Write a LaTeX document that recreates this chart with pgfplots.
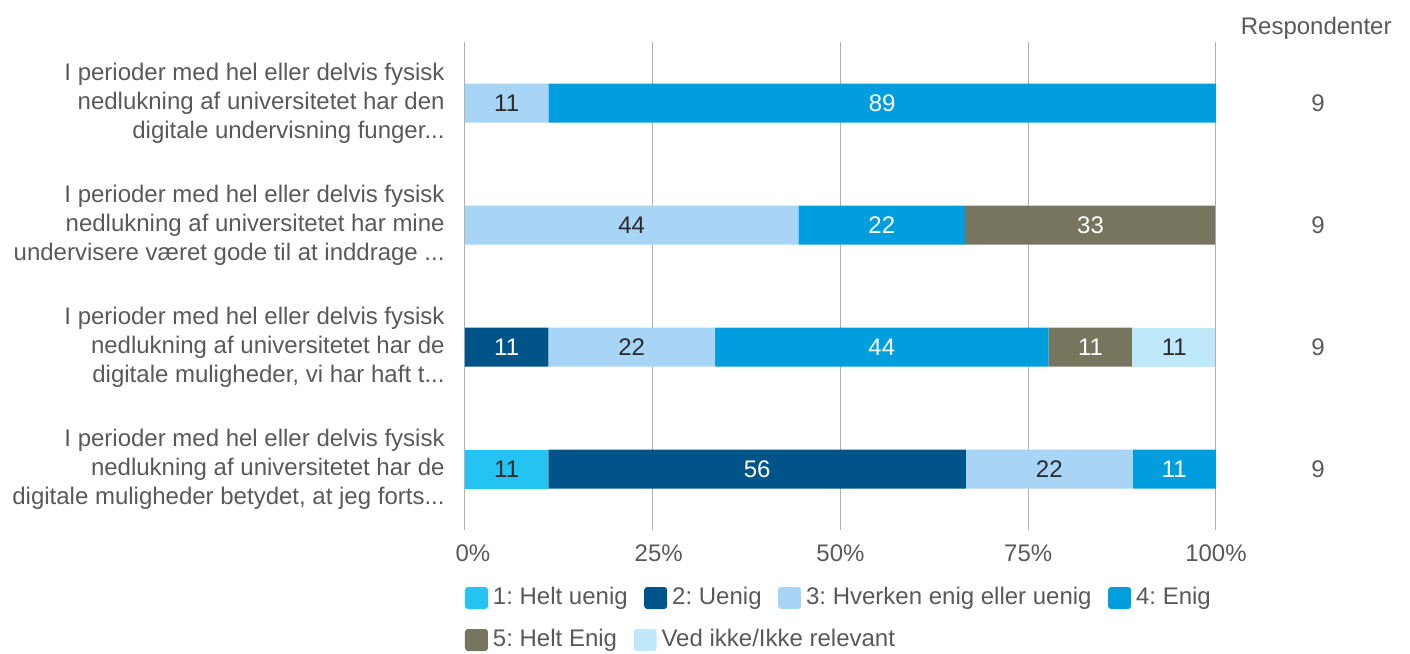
\documentclass[border=0pt]{standalone}
\usepackage{pgfplots}
\pgfplotsset{compat=1.18}
\usepackage{fontspec}
\setmainfont{Liberation Sans}
\frenchspacing
\definecolor{cA}{HTML}{23C3F2}
\definecolor{cB}{HTML}{005489}
\definecolor{cC}{HTML}{A8D4F5}
\definecolor{cD}{HTML}{009EDE}
\definecolor{cE}{HTML}{78755F}
\definecolor{cF}{HTML}{C0E8FB}
\definecolor{txtgray}{HTML}{595959}
\definecolor{numdark}{HTML}{2B2B2B}
\definecolor{gridgray}{HTML}{B0B0B0}
\definecolor{axgray}{HTML}{A0A0A0}
\newcommand\dd{...}
\pgfplotsset{
  sqlegend/.style={legend image code/.code={\fill[##1, rounded corners=1.5pt] (0pt,-5.5pt) rectangle (11.5pt,5.5pt);}},
  sameframe/.style={at={(0,0)}, anchor=south west, scale only axis, width=375.5pt, height=244pt},
  legrow/.style={legend columns=-1,
    legend style={at={(axis description cs:0,0)}, anchor=west, yshift=#1, draw=none, fill=none, inner sep=0pt, outer sep=0pt, text=txtgray, font=\fontsize{12}{14.5}\selectfont, nodes={inner sep=0pt},
    /tikz/every odd column/.append style={column sep=2.5pt},
    /tikz/every even column/.append style={column sep=8.25pt}}},
}
\begin{document}
\fontsize{12}{14.5}\selectfont
\begin{tikzpicture}[font=\fontsize{12}{14.5}\selectfont]
\useasboundingbox (-232.5pt,-62pt) rectangle (472.5pt,265pt);
% bars
\begin{axis}[
  sameframe,
  xbar stacked, bar width=19.5pt,
  sqlegend, legrow=-34pt,
  xmin=0, xmax=100, ymin=-0.5, ymax=3.5, y dir=reverse,
  ytick={0,1,2,3},
  yticklabels={
    {I perioder med hel eller delvis fysisk\\nedlukning af universitetet har den\\digitale undervisning funger\dd},
    {I perioder med hel eller delvis fysisk\\nedlukning af universitetet har mine\\undervisere været gode til at inddrage \dd},
    {I perioder med hel eller delvis fysisk\\nedlukning af universitetet har de\\digitale muligheder, vi har haft t\dd},
    {I perioder med hel eller delvis fysisk\\nedlukning af universitetet har de\\digitale muligheder betydet, at jeg forts\dd}},
  yticklabel style={align=right, inner sep=0pt, xshift=-10pt, text=txtgray, font=\fontsize{12}{14.5}\selectfont},
  xtick={25,50,75,100},
  xticklabels={\hspace{6pt}25\%,50\%,75\%,100\%\hspace{11pt}},
  extra x ticks={0}, extra x tick labels={\hspace{8pt}0\%},
  extra x tick style={grid style={draw=axgray, line width=1pt}},
  xmajorgrids, major grid style={draw=gridgray, line width=0.5pt},
  major tick length=0pt,
  axis line style={draw=none},
  xticklabel style={inner sep=0pt, anchor=north, yshift=-7pt, text=txtgray, font=\fontsize{12}{14.5}\selectfont},
  clip=false,
]
\addplot[fill=cA, draw=none] coordinates {(0,0) (0,1) (0,2) (11.1,3)};
\addlegendentry{1: Helt uenig}
\addplot[fill=cB, draw=none] coordinates {(0,0) (0,1) (11.1,2) (55.6,3)};
\addlegendentry{2: Uenig}
\addplot[fill=cC, draw=none] coordinates {(11.1,0) (44.4,1) (22.2,2) (22.2,3)};
\addlegendentry{3: Hverken enig eller uenig}
\addplot[fill=cD, draw=none] coordinates {(88.9,0) (22.2,1) (44.4,2) (11.1,3)};
\addlegendentry{4: Enig}
\addplot[fill=cE, draw=none] coordinates {(0,0) (33.3,1) (11.1,2) (0,3)};
\addplot[fill=cF, draw=none] coordinates {(0,0) (0,1) (11.1,2) (0,3)};
\end{axis}
% value labels and respondent counts
\begin{axis}[
  sameframe, hide axis, clip=false,
  xmin=0, xmax=100, ymin=-0.5, ymax=3.5, y dir=reverse,
  point meta=explicit symbolic,
  nodes near coords,
  every node near coord/.append style={anchor=center, inner sep=0pt, font=\fontsize{12}{14.5}\selectfont},
]
\addplot[draw=none, mark=none, every node near coord/.append style={text=numdark}] coordinates {
  (5.55,0) [11] (22.2,1) [44] (22.2,2) [22] (94.45,2) [11] (5.55,3) [11] (77.8,3) [22]};
\addplot[draw=none, mark=none, every node near coord/.append style={text=white}] coordinates {
  (55.55,0) [89] (55.5,1) [22] (83.3,1) [33] (5.55,2) [11] (55.5,2) [44] (83.3,2) [11] (38.9,3) [56] (94.45,3) [11]};
\addplot[draw=none, mark=none, every node near coord/.append style={text=txtgray}] coordinates {
  (113.6,0) [9] (113.6,1) [9] (113.6,2) [9] (113.6,3) [9]};
\end{axis}
% second legend row
\begin{axis}[
  sameframe, hide axis, xmin=0, xmax=1, ymin=0, ymax=1,
  sqlegend, legrow=-55pt,
]
\addlegendimage{fill=cE, draw=none}
\addlegendentry{5: Helt Enig}
\addlegendimage{fill=cF, draw=none}
\addlegendentry{Ved ikke/Ikke relevant}
\end{axis}
\node[anchor=east, text=txtgray, inner sep=0pt] at (463.5pt,251pt) {Respondenter};
\end{tikzpicture}
\end{document}
